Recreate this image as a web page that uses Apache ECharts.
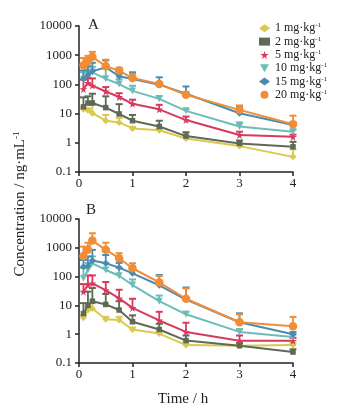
<!DOCTYPE html>
<html><head><meta charset="utf-8">
<script src="https://cdn.jsdelivr.net/npm/echarts@6/dist/echarts.min.js"></script>
<style>html,body{margin:0;padding:0;background:#fff}#c{width:340px;height:411px}</style>
</head><body><div id="c"></div>
<script>
var times = [0.083, 0.167, 0.25, 0.5, 0.75, 1, 1.5, 2, 3, 4];
var doses = ['1 mg·kg', '2 mg·kg', '5 mg·kg', '10 mg·kg', '15 mg·kg', '20 mg·kg'];
var yTicks = [0.1, 1, 10, 100, 1000, 10000];
var xTicks = [0, 1, 2, 3, 4];

// Panel A: means and upper ends of error bars
var A_1 = [14, 13, 10.3, 5.7, 5, 3.1, 2.7, 1.4, 0.77, 0.33];
var A_1_up = [16, 15, 20, 9, 7, 3.5, 3, 1.6, 0.85, 0.6];
var A_2 = [17, 23, 23, 16, 9.7, 5.7, 3.6, 1.7, 0.95, 0.73];
var A_2_up = [36, 39, 48, 39, 21, 9, 5.7, 2.3, 1.2, 1.08];
var A_5 = [69, 112, 91, 57, 37, 21.6, 14, 6, 1.85, 1.6];
var A_5_up = [145, 167, 160, 81, 50, 30, 20, 7.9, 2.4, 1.9];
var A_10 = [150, 215, 260, 155, 103, 60, 32, 12.4, 3.6, 2.4];
var A_10_up = [260, 320, 400, 360, 150, 90, 40, 14, 5, 2.8];
var A_15 = [157, 210, 280, 385, 190, 153, 98, 48, 10.3, 4.1];
var A_15_up = [300, 420, 550, 660, 230, 260, 175, 85, 17.4, 5];
var A_20 = [455, 620, 880, 420, 297, 165, 103, 44, 13.4, 4.3];
var A_20_up = [800, 950, 1300, 700, 370, 230, 120, 55, 19, 8.5];

// Panel B
var B_1 = [3.7, 6.9, 7.8, 3.3, 3.1, 1.45, 1.05, 0.42, 0.4, 0.42];
var B_1_up = [4.5, 9, 12, 4, 4, 1.7, 1.2, 0.5, 0.45, 0.5];
var B_2 = [5.2, 10, 14, 10.8, 6.9, 2.7, 1.46, 0.6, 0.4, 0.24];
var B_2_up = [12, 30, 40, 25, 14, 4.5, 2.3, 0.9, 0.5, 0.3];
var B_5 = [30, 51, 58, 34, 17.5, 8.2, 3, 1.2, 0.59, 0.59];
var B_5_up = [55, 110, 110, 65, 35, 17, 6, 2.5, 0.9, 0.75];
var B_10 = [87, 170, 290, 170, 107, 51, 14, 4.9, 1.2, 0.8];
var B_10_up = [200, 300, 500, 300, 200, 80, 22, 6, 1.5, 1];
var B_15 = [220, 235, 360, 290, 205, 130, 50, 16, 2.6, 1.0];
var B_15_up = [380, 500, 850, 560, 300, 180, 113, 42, 5.3, 1.2];
var B_20 = [520, 850, 1780, 850, 435, 195, 63, 17, 2.6, 1.9];
var B_20_up = [1100, 1500, 3200, 1500, 650, 290, 105, 39, 4.9, 4];

var colors = ['#d9c94f', '#5e6a55', '#d83a5e', '#6cbdb6', '#4b8bb0', '#f08d36'];
var symbols = [
  'diamond', 'rect',
  'path://M50,0 L61,35 L98,35 L68,57 L79,91 L50,70 L21,91 L32,57 L2,35 L39,35 Z',
  'path://M0,0 L10,0 L5,9 Z',
  'diamond', 'circle'
];
var symSizes = [7, 5.5, 8, 7, 7, 8.5];

var serif = '"Liberation Serif","Times New Roman",serif';
var meansA = [A_1, A_2, A_5, A_10, A_15, A_20];
var upsA = [A_1_up, A_2_up, A_5_up, A_10_up, A_15_up, A_20_up];
var meansB = [B_1, B_2, B_5, B_10, B_15, B_20];
var upsB = [B_1_up, B_2_up, B_5_up, B_10_up, B_15_up, B_20_up];

function errRender(color) {
  return function (params, api) {
    var x = api.value(0), lo = api.value(1), hi = api.value(2);
    var p0 = api.coord([x, lo]), p1 = api.coord([x, hi]);
    var w = 3.5;
    return {
      type: 'group', children: [
        { type: 'line', shape: { x1: p0[0], y1: p0[1], x2: p1[0], y2: p1[1] }, style: { stroke: color, lineWidth: 1.8 } },
        { type: 'line', shape: { x1: p1[0] - w, y1: p1[1], x2: p1[0] + w, y2: p1[1] }, style: { stroke: color, lineWidth: 2 } }
      ]
    };
  };
}

var series = [];
function addPanel(idx, means, ups) {
  for (var i = 0; i < doses.length; i++) {
    var errData = times.map(function (t, k) { return [t, means[i][k], ups[i][k]]; });
    series.push({
      type: 'custom', name: 'err' + idx + i, xAxisIndex: idx, yAxisIndex: idx,
      renderItem: errRender(colors[i]), data: errData, z: 2 + i, silent: true
    });
    series.push({
      type: 'line', name: doses[i], xAxisIndex: idx, yAxisIndex: idx,
      data: times.map(function (t, k) { return [t, means[i][k]]; }),
      symbol: symbols[i], symbolSize: symSizes[i], showSymbol: true,
      lineStyle: { color: colors[i], width: 2 },
      itemStyle: { color: colors[i] }, z: 2 + i
    });
  }
}
addPanel(0, meansA, upsA);
addPanel(1, meansB, upsB);

function xAxis(gi) {
  return {
    type: 'value', gridIndex: gi, min: xTicks[0], max: xTicks[xTicks.length - 1], interval: 1,
    axisLine: { lineStyle: { color: '#222', width: 1.5 } },
    axisTick: { lineStyle: { color: '#222', width: 1.5 }, length: 4 },
    axisLabel: { color: '#222', fontFamily: serif, fontSize: 13, margin: 5 },
    splitLine: { show: false }
  };
}
function yAxis(gi) {
  return {
    type: 'log', logBase: 10, gridIndex: gi, min: yTicks[0], max: yTicks[yTicks.length - 1],
    axisLine: { lineStyle: { color: '#222', width: 1.5 } },
    axisTick: { lineStyle: { color: '#222', width: 1.5 }, length: 4 },
    axisLabel: { color: '#222', fontFamily: serif, fontSize: 13, margin: 7,
      formatter: function (v) { return String(v); } },
    splitLine: { show: false }, minorTick: { show: false }
  };
}

var chart = echarts.init(document.getElementById('c'), null, { renderer: 'canvas' });
chart.setOption({
  animation: false,
  backgroundColor: '#fff',
  grid: [
    { left: 79, top: 26, width: 214, height: 146 },
    { left: 79, top: 219, width: 214, height: 144 }
  ],
  xAxis: [xAxis(0), xAxis(1)],
  yAxis: [yAxis(0), yAxis(1)],
  legend: {
    data: doses.map(function (d, i) { return { name: d, icon: symbols[i] }; }),
    orient: 'vertical', left: 254, top: 17, itemWidth: 11, itemHeight: 8, itemGap: 1,
    textStyle: { color: '#222', fontFamily: serif, fontSize: 12,
      rich: { a: { fontFamily: serif, fontSize: 12, color: '#222', lineHeight: 12.6 },
              s: { fontFamily: serif, fontSize: 7, color: '#222', verticalAlign: 'top', lineHeight: 12.6 } } },
    formatter: function (n) { return '{a|' + n + '}{s|-1}'; }
  },
  graphic: [
    { type: 'text', left: 88, top: 18, style: { text: 'A', font: '15px ' + serif, fill: '#222' } },
    { type: 'text', left: 86, top: 203, style: { text: 'B', font: '15px ' + serif, fill: '#222' } },
    { type: 'text', x: 183, y: 399, style: { text: 'Time / h', font: '15px ' + serif, fill: '#222', align: 'center', verticalAlign: 'middle' } },
    { type: 'text', x: 20, y: 204, rotation: Math.PI / 2,
      style: { text: '{m|Concentration / ng·mL}{s|-1}', align: 'center', verticalAlign: 'middle',
        rich: { m: { fontFamily: serif, fontSize: 15, fill: '#222', color: '#222', lineHeight: 16 },
                s: { fontFamily: serif, fontSize: 9, fill: '#222', color: '#222', verticalAlign: 'top', lineHeight: 16 } } } }
  ],
  series: series
});
</script>
</body></html>
